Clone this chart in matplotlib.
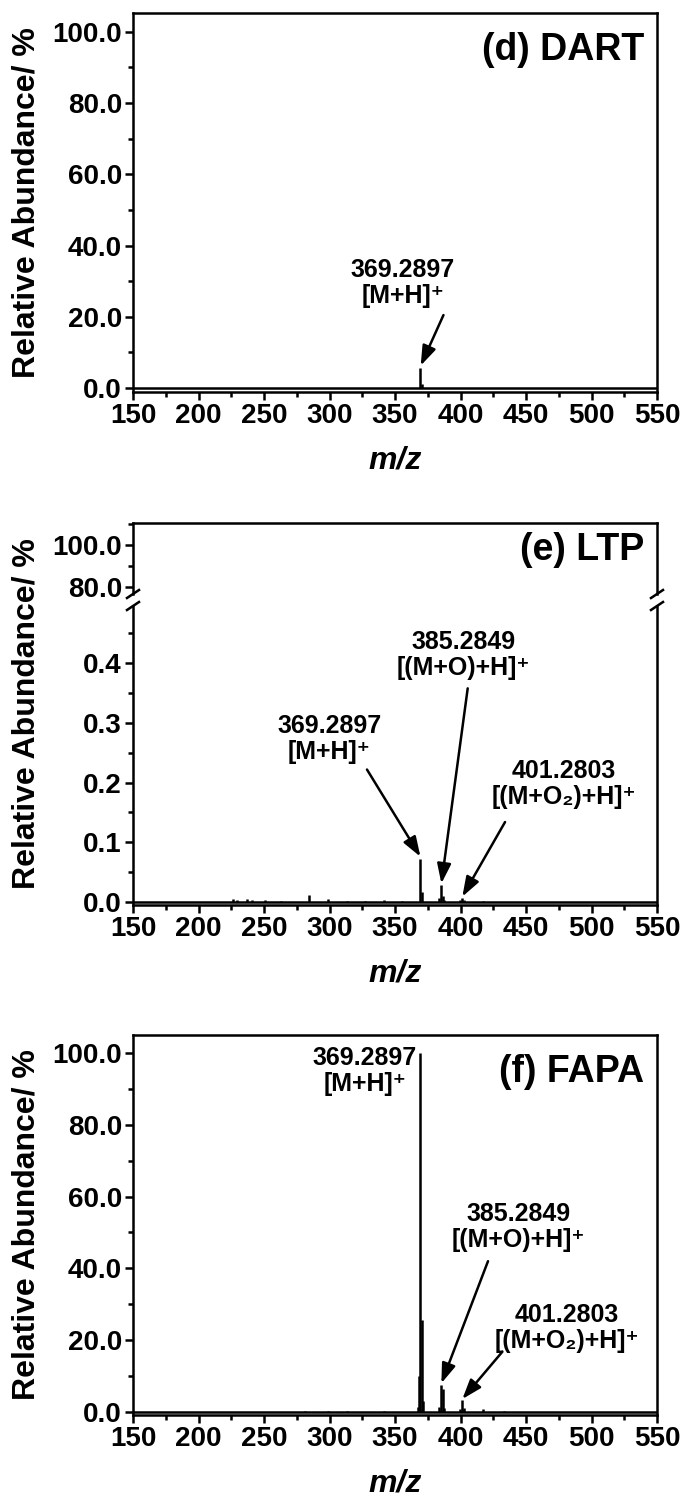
import numpy as np
import matplotlib
matplotlib.use('Agg')
import matplotlib.pyplot as plt
from matplotlib.lines import Line2D
from matplotlib.ticker import MultipleLocator, FormatStrFormatter

# === fonts ===
plt.rcParams['font.family'] = ['Liberation Sans Narrow', 'Liberation Sans', 'DejaVu Sans']
plt.rcParams['font.weight'] = 'bold'

# === data ===
# (d) DART
dart_mz = [369.29, 370.29]
dart_int = [5.6, 1.2]

# (e) LTP  (relative abundance, %)
ltp_mz = [226.1, 229.2, 237.1, 241.2, 251.1, 263.2, 284.2, 299.2, 313.2, 327.2,
          341.3, 355.3, 369.29, 370.29, 383.3, 385.28, 386.29, 387.3, 399.3, 401.28,
          402.3, 417.3]
ltp_int = [0.005, 0.004, 0.005, 0.003, 0.003, 0.002, 0.011, 0.005, 0.002, 0.002,
           0.003, 0.002, 0.072, 0.016, 0.006, 0.028, 0.010, 0.004, 0.003, 0.006,
           0.003, 0.002]

# (f) FAPA
fapa_mz = [281.2, 299.2, 313.3, 341.3, 367.3, 368.3, 369.29, 370.29, 371.3,
           383.3, 385.28, 386.29, 387.3, 399.3, 401.28, 402.3, 417.3, 433.3]
fapa_int = [0.3, 0.3, 0.2, 0.2, 1.5, 10.0, 100.0, 25.5, 3.0,
            1.5, 7.6, 6.5, 1.2, 0.8, 3.2, 1.0, 0.8, 0.3]

xticks = [150, 200, 250, 300, 350, 400, 450, 500, 550]

ion_mh = '[M+H]\u207a'
ion_mo = '[(M+O)+H]\u207a'
ion_mo2 = '[(M+O\u2082)+H]\u207a'

W, H = 680, 1497
fig = plt.figure(figsize=(W / 100, H / 100), dpi=100)


def frac(top_px, bot_px, left_px=133, right_px=657):
    return [left_px / W, 1 - bot_px / H, (right_px - left_px) / W, (bot_px - top_px) / H]


LW = 1.8
TICK = 20
ANN = 18
PANEL = 27


def style(ax, ymajor, yminor, fmt='%.1f', bottom=True):
    for s in ax.spines.values():
        s.set_linewidth(LW)
    ax.set_xlim(150, 550)
    ax.xaxis.set_major_locator(MultipleLocator(50))
    ax.xaxis.set_minor_locator(MultipleLocator(25))
    ax.yaxis.set_major_locator(MultipleLocator(ymajor))
    ax.yaxis.set_minor_locator(MultipleLocator(yminor))
    ax.yaxis.set_major_formatter(FormatStrFormatter(fmt))
    ax.tick_params(which='both', direction='out', width=LW, labelsize=TICK,
                   top=False, right=False, bottom=bottom, labelbottom=bottom)
    ax.tick_params(which='major', length=6, pad=2)
    ax.tick_params(which='minor', length=3.5)
    if bottom:
        ax.set_xticks(xticks)
        ax.set_xlabel('m/z', fontsize=23, fontstyle='italic', fontweight='bold', labelpad=12)


def spectrum(ax, mz, inten):
    ax.axhline(0, color='k', lw=1.8, zorder=2)
    ax.vlines(mz, 0, inten, color='k', lw=1.8, zorder=3)


def label(ax, x, y, txt):
    ax.text(x, y, txt, ha='center', va='bottom', fontsize=ANN, fontweight='bold',
            linespacing=1.1)


def arrow(ax, tail, head):
    ax.annotate('', xy=head, xytext=tail,
                arrowprops=dict(arrowstyle='-|>,head_length=0.8,head_width=0.28',
                                color='k', lw=1.8, mutation_scale=15,
                                shrinkA=0, shrinkB=0))


# === (d) DART ===
ax_d = fig.add_axes(frac(13, 392))
spectrum(ax_d, dart_mz, dart_int)
ax_d.set_ylim(-1.1, 105.3)
style(ax_d, 20, 10)
ax_d.text(0.975, 0.95, '(d) DART', transform=ax_d.transAxes, ha='right', va='top',
          fontsize=PANEL, fontweight='bold')
label(ax_d, 356, 22.5, '369.2897\n' + ion_mh)
arrow(ax_d, (387, 20.5), (369.6, 6.3))

# === (e) LTP, broken axis ===
ax_eu = fig.add_axes(frac(523, 594))
ax_el = fig.add_axes(frac(606, 905))
spectrum(ax_el, ltp_mz, ltp_int)
ax_eu.set_ylim(76.7, 110.5)
ax_el.set_ylim(-0.005, 0.496)
style(ax_eu, 20, 10, bottom=False)
style(ax_el, 0.1, 0.05)
ax_eu.spines['bottom'].set_visible(False)
ax_el.spines['top'].set_visible(False)
ax_eu.text(0.975, 0.88, '(e) LTP', transform=ax_eu.transAxes, ha='right', va='top',
           fontsize=PANEL, fontweight='bold')

label(ax_el, 300, 0.232, '369.2897\n' + ion_mh)
arrow(ax_el, (328.6, 0.222), (369.4, 0.076))
label(ax_el, 402, 0.372, '385.2849\n' + ion_mo)
arrow(ax_el, (405.5, 0.358), (385.4, 0.031))
label(ax_el, 479, 0.156, '401.2803\n' + ion_mo2)
arrow(ax_el, (434, 0.134), (401.4, 0.009))

# break marks (//) at the ends of both side spines
for xp in (133, 657):
    fx = xp / W
    for yp in (594, 606):
        fig.add_artist(Line2D([fx - 6 / W, fx + 6 / W], [1 - (yp + 4) / H, 1 - (yp - 4) / H],
                              color='k', lw=1.8, transform=fig.transFigure, zorder=11))

# === (f) FAPA ===
ax_f = fig.add_axes(frac(1035, 1415))
spectrum(ax_f, fapa_mz, fapa_int)
ax_f.set_ylim(-0.84, 105.0)
style(ax_f, 20, 10)
ax_f.text(0.975, 0.95, '(f) FAPA', transform=ax_f.transAxes, ha='right', va='top',
          fontsize=PANEL, fontweight='bold')
label(ax_f, 327, 88.0, '369.2897\n' + ion_mh)
label(ax_f, 444, 44.5, '385.2849\n' + ion_mo)
arrow(ax_f, (421, 42.0), (385.4, 8.0))
label(ax_f, 481, 16.5, '401.2803\n' + ion_mo2)
arrow(ax_f, (432, 16.8), (401.4, 3.6))

# y labels, one per panel
for top_px, bot_px in ((13, 392), (523, 905), (1035, 1415)):
    fig.text(27 / W, 1 - (top_px + bot_px) / 2 / H, 'Relative Abundance/ %', rotation=90,
             ha='center', va='center', fontsize=23, fontweight='bold')

fig.savefig('out.png', dpi=100)
